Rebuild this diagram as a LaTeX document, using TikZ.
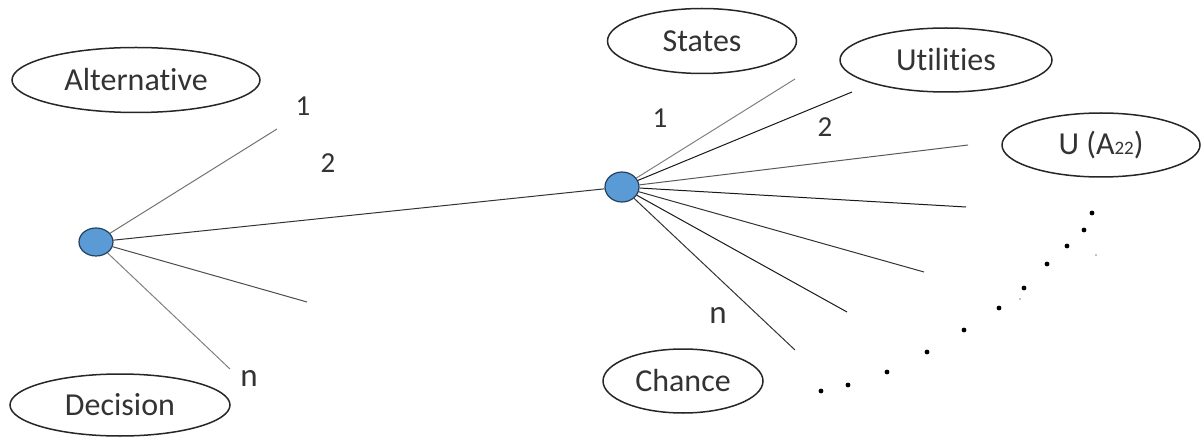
\documentclass[tikz,border=0pt]{standalone}
\usepackage{fontspec}
\setmainfont{Carlito}[RawFeature={-liga}]
\usetikzlibrary{shapes.geometric}
\definecolor{nodeblue}{HTML}{5B9BD5}
\definecolor{nodeedge}{HTML}{24405E}
\begin{document}
\begin{tikzpicture}[x=1pt,y=-1pt,
  oval/.style={ellipse, draw=black!85, line width=1.5pt, inner sep=0pt,
    font=\fontsize{32}{38}\selectfont, text=black!80},
  event/.style={ellipse, draw=nodeedge, line width=1.2pt, fill=nodeblue, inner sep=0pt},
  branch/.style={line width=1pt},
  num/.style={font=\fontsize{29}{34}\selectfont, text=black!80, inner sep=0pt},
  speck/.style={circle, fill=black, inner sep=0pt, minimum size=4.8pt}
]
\useasboundingbox (0,0) rectangle (1201,438);

% labelled ovals
\node[oval, minimum width=248pt, minimum height=65pt] (alt) at (136,80) {Alternative};
\node[oval, minimum width=220pt, minimum height=62pt] (dec) at (120,405) {Decision};
\node[oval, minimum width=189pt, minimum height=65pt] (states) at (702,41) {States};
\node[oval, minimum width=212pt, minimum height=64pt] (util) at (946,60) {Utilities};
\node[oval, minimum width=198pt, minimum height=64pt] (ua) at (1101,145)
  {U (A{\fontsize{19}{19}\selectfont 22})};
\node[oval, minimum width=160pt, minimum height=64pt] (chance) at (683,381) {Chance};

% decision and chance points
\node[event, minimum width=34pt, minimum height=28pt] (d) at (96,242) {};
\node[event, minimum width=34pt, minimum height=30pt] (c) at (622,187) {};

% free ends of the branches
\coordinate (d1) at (277,129);
\coordinate (d3) at (307,302);
\coordinate (dn) at (230,369);
\coordinate (c1) at (795,79);
\coordinate (c2) at (852,92);
\coordinate (c3) at (968,145);
\coordinate (c4) at (966,207);
\coordinate (c5) at (924,272);
\coordinate (c6) at (847,312);
\coordinate (cn) at (795,350);

% branches of the decision point
\draw[branch, black!55] (d) -- (d1);
\draw[branch, black!80] (d) -- (c);
\draw[branch, black!70] (d) -- (d3);
\draw[branch, black!50] (d) -- (dn);

% branches of the chance point
\draw[branch, black!50] (c) -- (c1);
\draw[branch, black!90] (c) -- (c2);
\draw[branch, black!65] (c) -- (c3);
\draw[branch, black!90] (c) -- (c4);
\draw[branch, black!80] (c) -- (c5);
\draw[branch, black!90] (c) -- (c6);
\draw[branch, black!80] (c) -- (cn);

% branch numbers
\node[num] (n1) at (303,106) {1};
\node[num] (n2) at (328,163) {2};
\node[num, font=\fontsize{33}{38}\selectfont] (nn) at (249,378) {n};
\node[num] (m1) at (660,118) {1};
\node[num] (m2) at (825,127) {2};
\node[num, font=\fontsize{33}{38}\selectfont] (mn) at (718,315) {n};

% continuation dots
\foreach \x/\y [count=\i] in {821/391, 848/385, 887/372, 927/352, 964/330, 999/308,
    1024/288, 1047/264, 1067/246, 1084/230, 1092/213}
  \node[speck] (s\i) at (\x,\y) {};
\node[speck, minimum size=1.4pt] (t1) at (1096,255) {};
\node[speck, minimum size=1.4pt] (t2) at (1020,299) {};
\end{tikzpicture}
\end{document}
